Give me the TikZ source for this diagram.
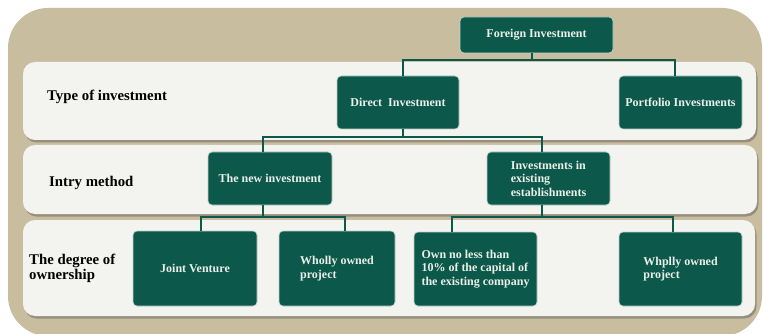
\documentclass[tikz,border=0pt]{standalone}
\usepackage{fontspec}
\setmainfont{Liberation Serif}
\usetikzlibrary{shadows}
\definecolor{sand}{RGB}{201,189,160}
\definecolor{band}{RGB}{243,243,240}
\definecolor{pine}{RGB}{12,88,75}
\definecolor{paper}{RGB}{234,240,233}
\newcommand{\boxtxt}{\fontsize{12}{13.5}\selectfont\bfseries}
\newcommand{\rowtxt}{\fontsize{14.8}{15.5}\selectfont\bfseries}
\tikzset{
	bandbox/.style={fill=band, rounded corners=12pt,
		drop shadow={opacity=0.4, shadow xshift=1.5pt, shadow yshift=-2.5pt, fill=black!70}},
	invbox/.style 2 args={draw=paper!80!pine, line width=0.7pt, fill=pine, rounded corners=4pt,
		text=paper, font=\boxtxt, align=center, inner sep=0pt,
		minimum width=#1, minimum height=#2},
	rowlabel/.style={font=\rowtxt, anchor=west, align=left, inner sep=0pt},
	link/.style={draw=pine, line width=2pt}
}

\begin{document}
\begin{tikzpicture}[x=1pt, y=-1pt]
		%%%%% FRAME %%%%%
		\useasboundingbox (0, 0) rectangle (763, 334);
		\fill[white] (0, 0) rectangle (763, 334);
		\fill[sand, rounded corners=40pt] (8, 8) rectangle (762, 336);
		
		\path[bandbox] (23, 62) rectangle (756, 140);
		\path[bandbox] (23, 145) rectangle (757, 214);
		\path[bandbox] (23, 220) rectangle (755, 316);
		
		%%%%% ROW LABELS %%%%%
		\node[rowlabel] (ltype) at (47, 97) {Type of investment};
		\node[rowlabel] (lentry) at (49, 183) {Intry method};
		\node[rowlabel] (lowner) at (29, 268.5) {The degree of\\ownership};
		
		%%%%% BOXES %%%%%
		\node[invbox={153pt}{36pt}] (fi) at (536.5, 35) {Foreign Investment};
		
		\node[invbox={122pt}{53pt}] (di) at (398, 102.5) {Direct\ \ Investment};
		\node[invbox={123pt}{53pt}] (pi) at (680.5, 102.5) {Portfolio Investments};
		
		\node[invbox={124pt}{53pt}] (ni) at (270, 178.5) {The new investment};
		\node[invbox={123pt}{53pt}, align=left] (ei) at (548.5, 178.5)
			{Investments in\\existing\\establishments};
		
		\node[invbox={124pt}{75pt}] (jv) at (195, 268.5) {Joint Venture};
		\node[invbox={116pt}{75pt}, align=left] (wo) at (337, 268.5)
			{Wholly owned\\project};
		\node[invbox={123pt}{74pt}, align=left] (on) at (475.5, 269)
			{Own no less than\\10\% of the capital of\\the existing company};
		\node[invbox={123pt}{74pt}, align=left] (wp) at (680.5, 269)
			{Whplly owned\\project};
		
		%%%%% LINKS %%%%%
		\draw[link] ([xshift=-4.5pt]fi.south) -- ++(0, 7) coordinate (bus1) -| ([xshift=5pt]di.north);
		\draw[link] (bus1) -| ([xshift=-5.5pt]pi.north);
		
		\draw[link] ([xshift=5pt]di.south) -- ++(0, 8) coordinate (bus2) -| ([xshift=-7pt]ni.north);
		\draw[link] (bus2) -| ([xshift=-6.5pt]ei.north);
		
		\draw[link] ([xshift=-7pt]ni.south) -- ++(0, 12) coordinate (bus3) -| ([xshift=6pt]jv.north);
		\draw[link] (bus3) -| ([xshift=8pt]wo.north);
		
		\draw[link] ([xshift=-6.5pt]ei.south) -- ++(0, 12) coordinate (bus4) -| ([xshift=-23.5pt]on.north);
		\draw[link] (bus4) -| ([xshift=-7.5pt]wp.north);
		
		%%%%% END %%%%%
	\end{tikzpicture}
\end{document}
